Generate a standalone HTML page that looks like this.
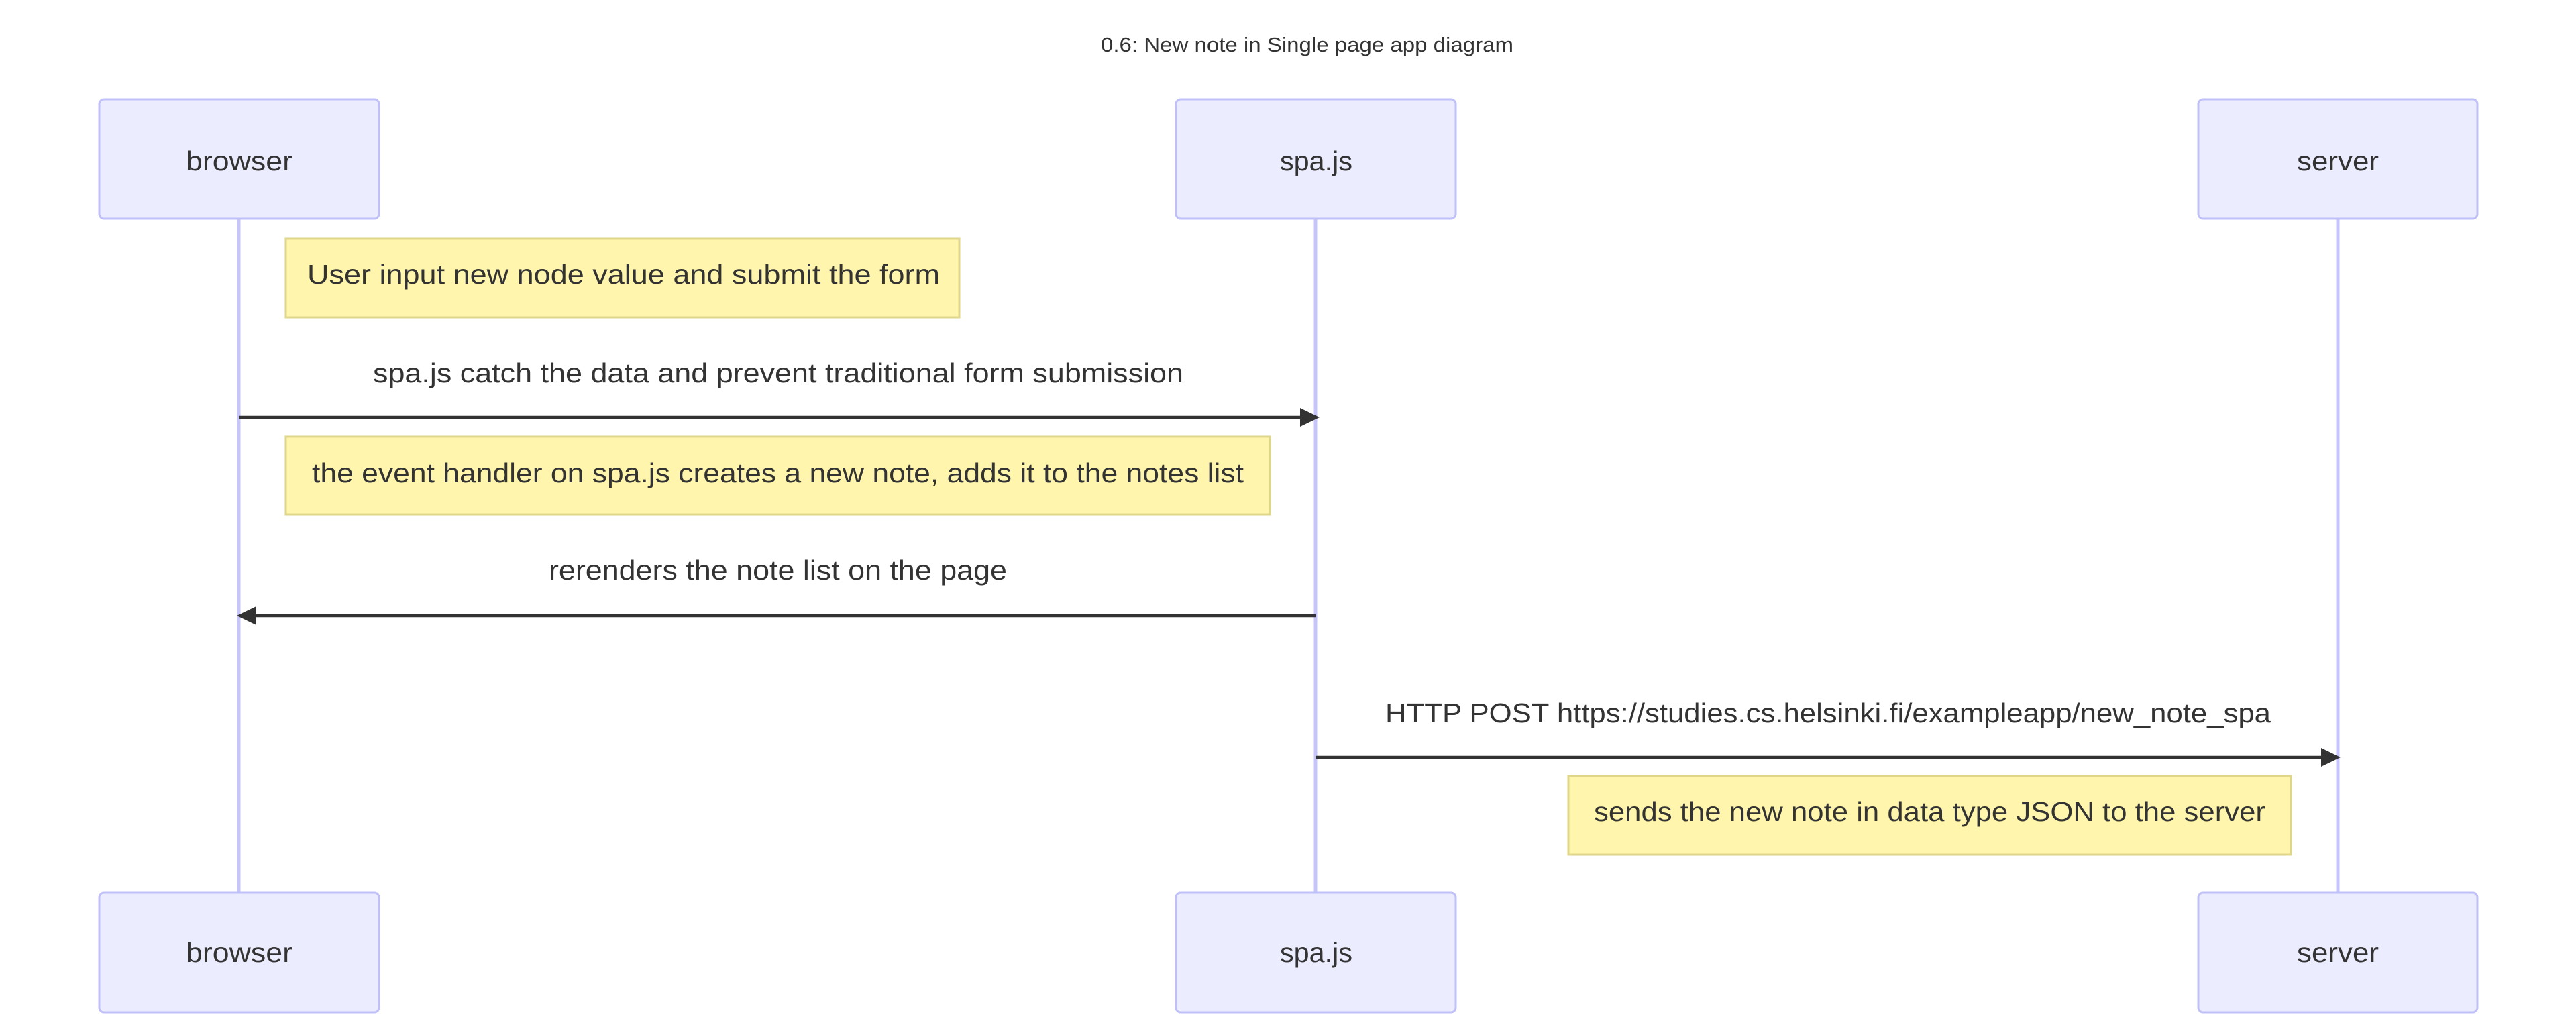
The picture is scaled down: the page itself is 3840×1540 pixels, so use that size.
<!DOCTYPE html>
<html><head><meta charset="utf-8"><style>html,body{margin:0;padding:0;background:#fff;}svg{display:block}</style></head>
<body>
<svg width="3840" height="1540" viewBox="0 0 3840 1540" xmlns="http://www.w3.org/2000/svg" font-family="Liberation Sans, sans-serif" fill="#333">
<rect width="3840" height="1540" fill="#fff"/>
<g stroke="#c5c5fb" stroke-width="5">
<line x1="356" y1="326" x2="356" y2="1330"/>
<line x1="1961" y1="326" x2="1961" y2="1330"/>
<line x1="3485" y1="326" x2="3485" y2="1330"/>
</g>
<g fill="#ececff" stroke="#c0c0f8" stroke-width="3">
<rect x="148" y="148" width="417" height="178" rx="7"/>
<rect x="1753" y="148" width="417" height="178" rx="7"/>
<rect x="3277" y="148" width="416" height="178" rx="7"/>
<rect x="148" y="1331" width="417" height="178" rx="7"/>
<rect x="1753" y="1331" width="417" height="178" rx="7"/>
<rect x="3277" y="1331" width="416" height="178" rx="7"/>
</g>
<g fill="#fff5ad" stroke="#e0d68a" stroke-width="3">
<rect x="426" y="356" width="1004" height="117"/>
<rect x="426" y="651" width="1467" height="116"/>
<rect x="2338" y="1157" width="1077" height="117"/>
</g>
<g stroke="#333" stroke-width="4.5">
<line x1="356" y1="622" x2="1940" y2="622"/>
<line x1="1961" y1="918" x2="380" y2="918"/>
<line x1="1961" y1="1129" x2="3462" y2="1129"/>
</g>
<polygon points="1938,608 1967,622 1938,636" fill="#333"/>
<polygon points="382,904 353,918 382,932" fill="#333"/>
<polygon points="3460,1115 3489,1129 3460,1143" fill="#333"/>
<g font-size="41" text-anchor="start">
<text x="1641" y="77" font-size="31" textLength="615" lengthAdjust="spacingAndGlyphs">0.6: New note in Single page app diagram</text>
<text x="277" y="254" textLength="159" lengthAdjust="spacingAndGlyphs">browser</text>
<text x="1908" y="254" textLength="108" lengthAdjust="spacingAndGlyphs">spa.js</text>
<text x="3424" y="254" textLength="122" lengthAdjust="spacingAndGlyphs">server</text>
<text x="277" y="1434" textLength="159" lengthAdjust="spacingAndGlyphs">browser</text>
<text x="1908" y="1434" textLength="108" lengthAdjust="spacingAndGlyphs">spa.js</text>
<text x="3424" y="1434" textLength="122" lengthAdjust="spacingAndGlyphs">server</text>
<text x="458" y="423" textLength="943" lengthAdjust="spacingAndGlyphs">User input new node value and submit the form</text>
<text x="556" y="570" textLength="1208" lengthAdjust="spacingAndGlyphs">spa.js catch the data and prevent traditional form submission</text>
<text x="465" y="719" textLength="1389" lengthAdjust="spacingAndGlyphs">the event handler on spa.js creates a new note, adds it to the notes list</text>
<text x="818" y="864" textLength="683" lengthAdjust="spacingAndGlyphs">rerenders the note list on the page</text>
<text x="2065" y="1077" textLength="1320" lengthAdjust="spacingAndGlyphs">HTTP POST https://studies.cs.helsinki.fi/exampleapp/new_note_spa</text>
<text x="2376" y="1224" textLength="1001" lengthAdjust="spacingAndGlyphs">sends the new note in data type JSON to the server</text>
</g>
</svg>
</body></html>
